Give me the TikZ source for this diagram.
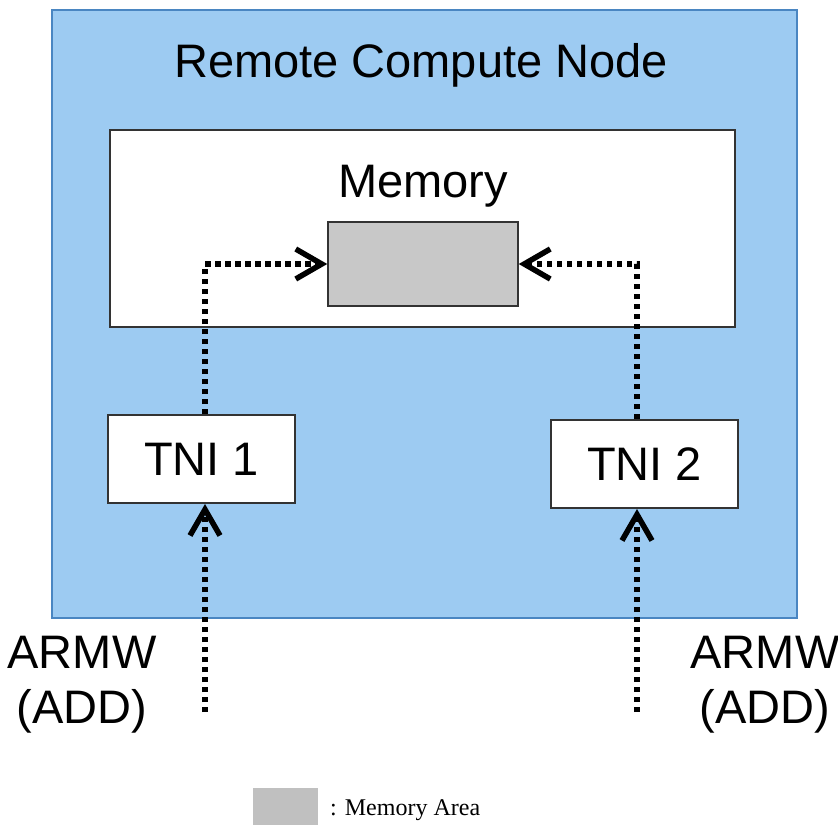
\documentclass[tikz,border=0pt]{standalone}
\usepackage{fontspec}
\setmainfont{Liberation Sans}
\newfontfamily\legendfont{Liberation Serif}
\usetikzlibrary{positioning}
\usetikzlibrary{arrows.meta}
\definecolor{nodeblue}{HTML}{9DCBF2}
\definecolor{nodeedge}{HTML}{4A86C2}
\definecolor{areagray}{HTML}{C8C8C8}
\definecolor{legendgray}{HTML}{C0C0C0}

\tikzset{
	bigfont/.style={font=\fontsize{47}{55}\selectfont},
	whitebox/.style={draw=black!80, line width=2pt, fill=white, inner sep=0pt},
	dotarrow/.style={line width=6pt, dash pattern=on 5.5pt off 4.5pt,
		-{Straight Barb[length=26pt, width=30pt, line width=5.5pt]}},
}

\begin{document}
\begin{tikzpicture}[x=1pt, y=-1pt]
	\useasboundingbox (0,0) rectangle (838,825);

	% remote node with memory
	\node[draw=nodeedge, line width=2.5pt, fill=nodeblue, minimum width=745pt, minimum height=608pt] (remote) at (424.5,314) {};
	\node[bigfont] (title) at (421,65) {Remote Compute Node};
	\node[whitebox, minimum width=625pt, minimum height=197pt] (memory) at (422.5,228.5) {};
	\node[bigfont] (memlabel) at (423,186) {Memory};
	\node[draw=black!80, line width=1.5pt, fill=areagray, minimum width=190pt, minimum height=84pt] (area) at (423,264) {};

	% interfaces
	\node[whitebox, bigfont, minimum width=187pt, minimum height=88pt] (tni1) at (201.5,459) {TNI 1};
	\node[whitebox, bigfont, minimum width=187pt, minimum height=88pt] (tni2) at (644.5,464) {TNI 2};

	\coordinate (in1) at (205,712);
	\coordinate (in2) at (637,712);
	\node[bigfont, align=center] (armw1) at (82,685) {ARMW\\(ADD)};
	\node[bigfont, align=center] (armw2) at (765,685) {ARMW\\(ADD)};

	\draw[dotarrow] ([xshift=3.5pt]tni1.north) |- (area.west);
	\draw[dotarrow] ([xshift=-7.5pt]tni2.north) |- (area.east);
	\draw[dotarrow] (in1) -- (in1 |- tni1.south);
	\draw[dotarrow] (in2) -- (in2 |- tni2.south);

	% legend
	\node[fill=legendgray, minimum width=65pt, minimum height=37pt, inner sep=0pt] (legbox) at (285.5,806.5) {};
	\node[font=\legendfont\fontsize{24}{28}\selectfont, anchor=west, inner sep=0pt] (legtext) at (330,810) {: Memory Area};
\end{tikzpicture}
\end{document}
